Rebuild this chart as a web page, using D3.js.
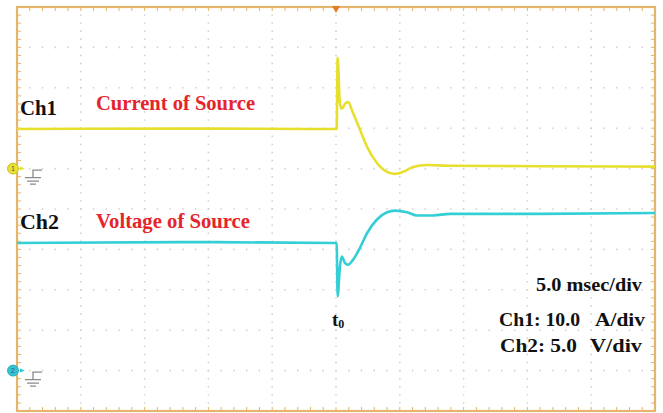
<!DOCTYPE html>
<html><head><meta charset="utf-8">
<script src="https://cdn.jsdelivr.net/npm/d3@7"></script>
<style>body{margin:0;background:#fff}svg{display:block}</style>
</head><body><svg id="c" width="663" height="413"></svg>
<script>
// time in ms relative to t0 (5 ms/div, 10 divisions)
const timeDomain = [-25, 25];
// Ch1: current of source (A), 10 A/div
const ch1Time = [-25, -12, 0.05, 0.13, 0.3, 0.45, 0.7, 0.94, 1.33, 1.88, 2.43, 3.21, 4.0, 4.63, 5.25, 6.04, 7.13, 8.94, 16, 25];
const ch1Amps = [9.8, 9.9, 9.8, 27.4, 16.3, 14.8, 16.0, 16.5, 13.8, 9.6, 5.4, 1.4, -0.8, -1.3, -0.8, 0.4, 0.9, 0.7, 0.6, 0.5];
// Ch2: voltage of source (V), 5 V/div
const ch2Time = [-25, -12, 0.05, 0.13, 0.31, 0.45, 0.71, 0.94, 1.33, 1.88, 2.43, 3.21, 4.0, 4.63, 5.57, 6.35, 7.6, 8.94, 16, 25];
const ch2Volts = [15.8, 15.9, 15.8, 9.2, 12.9, 14.1, 13.3, 13.1, 13.7, 15.2, 17.0, 18.7, 19.6, 19.8, 19.6, 19.2, 19.2, 19.4, 19.4, 19.5];
const ch1Label = ["Ch1", "Current of Source"];
const ch2Label = ["Ch2", "Voltage of Source"];
const scaleLabels = ["5.0 msec/div", "Ch1: 10.0", "A/div", "Ch2: 5.0", "V/div"];
const ch1Offset = 1;   // ground position in divisions from centre
const ch2Offset = -4;

const svg = d3.select("#c");
const L = 17, R = 655, T = 7, B = 411;
const x = d3.scaleLinear().domain(timeDomain).range([L, R]);
const yDiv = d3.scaleLinear().domain([-5, 5]).range([B, T]);
const y1 = v => yDiv(ch1Offset + v / 10);
const y2 = v => yDiv(ch2Offset + v / 5);

const border = "#e4b56c", grid = "#cfcfcf";
const g = svg.append("g");
const hDiv = (R - L) / 10, vDiv = (B - T) / 10;
d3.range(-20, 21, 5).forEach(t => {
  g.append("line").attr("x1", x(t)).attr("x2", x(t)).attr("y1", T).attr("y2", B)
   .attr("stroke", grid).attr("stroke-width", 1.6)
   .attr("stroke-dasharray", `1.4 ${vDiv / 5 - 1.4}`).attr("stroke-dashoffset", 0.7);
});
d3.range(-4, 5, 1).forEach(d => {
  g.append("line").attr("y1", yDiv(d)).attr("y2", yDiv(d)).attr("x1", L).attr("x2", R)
   .attr("stroke", grid).attr("stroke-width", 1.6)
   .attr("stroke-dasharray", `1.4 ${hDiv / 5 - 1.4}`).attr("stroke-dashoffset", 0.7);
});
const minorT = d3.range(-25, 25.01, 1), minorD = d3.range(-5, 5.01, 0.2);
minorT.forEach(t => {
  g.append("line").attr("x1", x(t)).attr("x2", x(t)).attr("y1", T).attr("y2", T + 4).attr("stroke", border).attr("stroke-width", 1);
  g.append("line").attr("x1", x(t)).attr("x2", x(t)).attr("y1", B).attr("y2", B - 4).attr("stroke", border).attr("stroke-width", 1);
});
minorD.forEach(d => {
  g.append("line").attr("y1", yDiv(d)).attr("y2", yDiv(d)).attr("x1", L).attr("x2", L + 4).attr("stroke", border).attr("stroke-width", 1);
  g.append("line").attr("y1", yDiv(d)).attr("y2", yDiv(d)).attr("x1", R).attr("x2", R - 4).attr("stroke", border).attr("stroke-width", 1);
});
svg.append("rect").attr("x", L).attr("y", T).attr("width", R - L).attr("height", B - T)
  .attr("fill", "none").attr("stroke", border).attr("stroke-width", 2.2);

const line = d3.line().curve(d3.curveMonotoneX);
svg.append("path").attr("d", line(ch1Time.map((t, i) => [x(t), y1(ch1Amps[i])])))
  .attr("fill", "none").attr("stroke", "#e6e02c").attr("stroke-width", 2.6).attr("stroke-linejoin", "round");
svg.append("path").attr("d", line(ch2Time.map((t, i) => [x(t), y2(ch2Volts[i])])))
  .attr("fill", "none").attr("stroke", "#34cfd6").attr("stroke-width", 2.6).attr("stroke-linejoin", "round");

const tx = x(0);
svg.append("path").attr("d", `M${tx - 4},${T - 1}L${tx + 4},${T - 1}L${tx},${T + 6}Z`).attr("fill", "#e27a22");

function ground(yy, fill, label) {
  const gg = svg.append("g");
  gg.append("path").attr("d", `M${L + 3},${yy - 2}L${L + 8},${yy}L${L + 3},${yy + 2}Z`).attr("fill", fill);
  gg.append("circle").attr("cx", 13).attr("cy", yy).attr("r", 5.5).attr("fill", fill).attr("stroke", d3.color(fill).darker(0.6)).attr("stroke-width", 0.8);
  gg.append("text").attr("x", 13).attr("y", yy + 2.5).attr("text-anchor", "middle")
    .attr("font-family", "'Liberation Sans', Arial").attr("font-size", 7).attr("fill", "#555").text(label);
  const sx = 33, sy = yy + 1.5;
  gg.append("path").attr("d", `M${sx + 9},${sy}H${sx}V${sy + 7.5}M${sx - 8},${sy + 7.5}H${sx + 8}M${sx - 6},${sy + 11}H${sx + 6}M${sx - 3},${sy + 14}H${sx + 3}`)
    .attr("fill", "none").attr("stroke", "#8a8a8a").attr("stroke-width", 1.3);
}
ground(y1(0), "#e8e22e", "1");
ground(y2(0), "#2ec6d6", "2");

const font = "'Liberation Serif', 'Times New Roman', Times, serif";
function txt(s, xx, yy, len, color, size) {
  svg.append("text").attr("x", xx).attr("y", yy).attr("font-family", font).attr("font-weight", "bold")
    .attr("font-size", size || 19).attr("fill", color || "#111")
    .attr("textLength", len).attr("lengthAdjust", "spacingAndGlyphs").text(s);
}
txt(ch1Label[0], 20, 115, 37, "#111", 20);
txt(ch1Label[1], 96, 110, 159, "#e5242b", 20);
txt(ch2Label[0], 20, 229, 39, "#111", 20);
txt(ch2Label[1], 96, 228, 154, "#e5242b", 20);
txt(scaleLabels[0], 536, 291, 106);
txt(scaleLabels[1], 499, 326, 81);
txt(scaleLabels[2], 595, 326, 50);
txt(scaleLabels[3], 500, 352, 77);
txt(scaleLabels[4], 590, 352, 52);
const t0 = svg.append("text").attr("x", tx - 4).attr("y", 326).attr("font-family", font)
  .attr("font-weight", "bold").attr("font-size", 19).attr("fill", "#111");
t0.append("tspan").text("t");
t0.append("tspan").attr("font-size", 12).attr("dy", 2).text("0");
</script></body></html>
